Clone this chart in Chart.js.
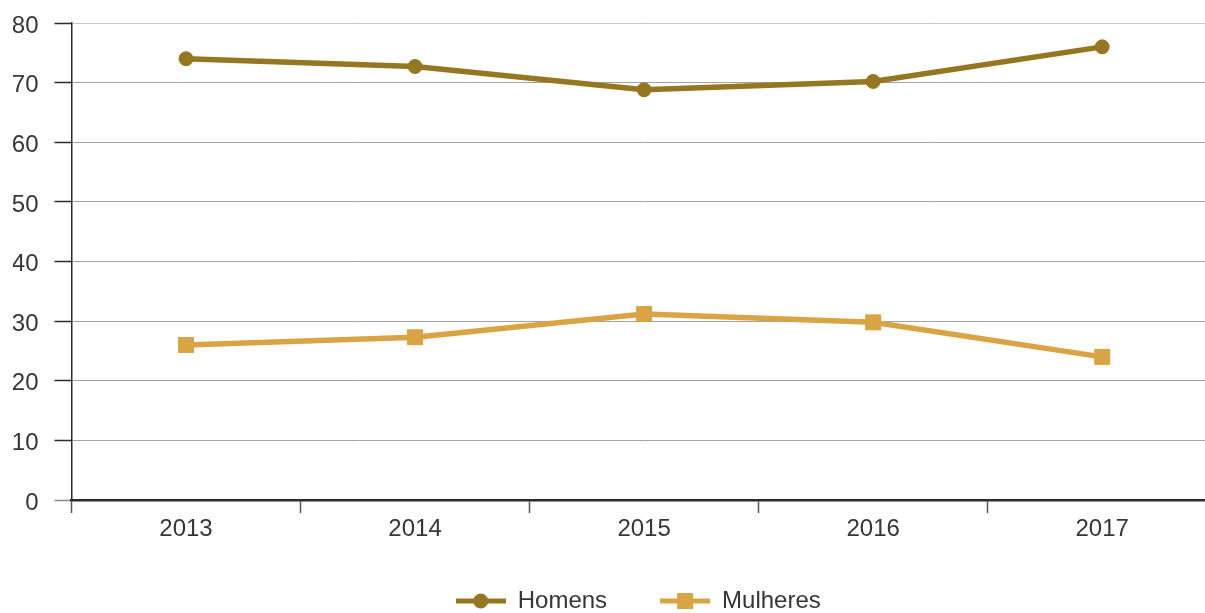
<!DOCTYPE html>
<html>
<head>
<meta charset="utf-8">
<script src="https://cdn.jsdelivr.net/npm/chart.js@4"></script>
<style>
  html, body { margin: 0; padding: 0; background: #fff; overflow: hidden; }
  canvas { display: block; }
</style>
</head>
<body>
<canvas id="c" width="1228" height="627"></canvas>
<script>
const years = ['2013', '2014', '2015', '2016', '2017'];
const homens = [74, 72.7, 68.8, 70.2, 76];
const mulheres = [26, 27.3, 31.2, 29.8, 24];
const yTicks = [0, 10, 20, 30, 40, 50, 60, 70, 80];

const COLOR_H = '#957621';
const COLOR_M = '#d9a443';
const TEXT = '#363636';
const FONT = "'Liberation Sans', Arial, sans-serif";
const FONT_SIZE = 24;
const VISIBLE_WIDTH = 1205;

// Legend swatch: a short line with the series marker in the middle
function swatch(color, shape) {
  const cv = document.createElement('canvas');
  cv.width = 50; cv.height = 18;
  const g = cv.getContext('2d');
  g.fillStyle = color;
  g.fillRect(0, 6.5, 50, 5);
  if (shape === 'circle') {
    g.beginPath(); g.arc(25, 9, 7.5, 0, Math.PI * 2); g.fill();
  } else {
    g.fillRect(17, 1, 16, 16);
  }
  return cv;
}
const swatches = [swatch(COLOR_H, 'circle'), swatch(COLOR_M, 'rect')];

// Legend sits centered between the y axis and the visible right edge
const legendPlacement = {
  id: 'legendPlacement',
  afterLayout(chart) {
    const lg = chart.legend;
    if (!lg) return;
    lg.left = chart.chartArea.left;
    lg.right = VISIBLE_WIDTH;
    const shift = -4;
    lg.top += shift;
    lg.bottom += shift;
  }
};

new Chart(document.getElementById('c'), {
  type: 'line',
  data: {
    labels: years,
    datasets: [
      {
        label: 'Homens', data: homens,
        borderColor: COLOR_H, backgroundColor: COLOR_H,
        borderWidth: 5.5, pointStyle: 'circle', pointRadius: 7,
        pointBorderWidth: 1, pointBorderColor: COLOR_H, pointBackgroundColor: COLOR_H,
        tension: 0
      },
      {
        label: 'Mulheres', data: mulheres,
        borderColor: COLOR_M, backgroundColor: COLOR_M,
        borderWidth: 5.5, pointStyle: 'rect', pointRadius: 11.3,
        pointBorderWidth: 0, pointBackgroundColor: COLOR_M,
        tension: 0
      }
    ]
  },
  options: {
    responsive: false,
    animation: false,
    devicePixelRatio: 1,
    clip: false,
    layout: { padding: { top: 23, left: 13, right: 0, bottom: 0 } },
    plugins: {
      tooltip: { enabled: false },
      legend: {
        position: 'bottom',
        labels: {
          usePointStyle: true,
          pointStyleWidth: 50,
          padding: 53,
          color: TEXT,
          font: { family: FONT, size: FONT_SIZE },
          generateLabels(chart) {
            const items = Chart.defaults.plugins.legend.labels.generateLabels(chart);
            items.forEach((it, i) => { it.pointStyle = swatches[i]; });
            return items;
          }
        }
      }
    },
    scales: {
      x: {
        offset: true,
        afterFit(scale) {
          scale.height = 40;
          scale.paddingLeft = 0;
          scale.paddingRight = 0;
        },
        border: { display: true, color: '#2b2b2b', width: 2.5 },
        grid: {
          display: true, drawOnChartArea: false, drawTicks: true,
          tickLength: 13, tickColor: '#555', tickWidth: 1.5, offset: true
        },
        ticks: {
          color: TEXT, padding: 4,
          font: { family: FONT, size: FONT_SIZE, lineHeight: 1 }
        }
      },
      y: {
        min: 0, max: 80,
        afterBuildTicks(scale) { scale.ticks = yTicks.map(v => ({ value: v })); },
        afterFit(scale) {
          scale.width = 58.5;
          scale.paddingTop = 0;
          scale.paddingBottom = 0;
        },
        border: { display: true, color: '#2b2b2b', width: 1.5 },
        grid: {
          color: (ctx) => (ctx.tick && ctx.tick.value === 80 ? '#c9c9c9' : '#a3a3a3'),
          lineWidth: 1,
          tickLength: 17,
          tickColor: (ctx) => (ctx.tick && ctx.tick.value === 0 ? '#8a8a8a' : '#2b2b2b'),
          tickWidth: 1.5
        },
        ticks: {
          color: TEXT, padding: 16, labelOffset: 3,
          font: { family: FONT, size: FONT_SIZE }
        }
      }
    }
  },
  plugins: [legendPlacement]
});
</script>
</body>
</html>
